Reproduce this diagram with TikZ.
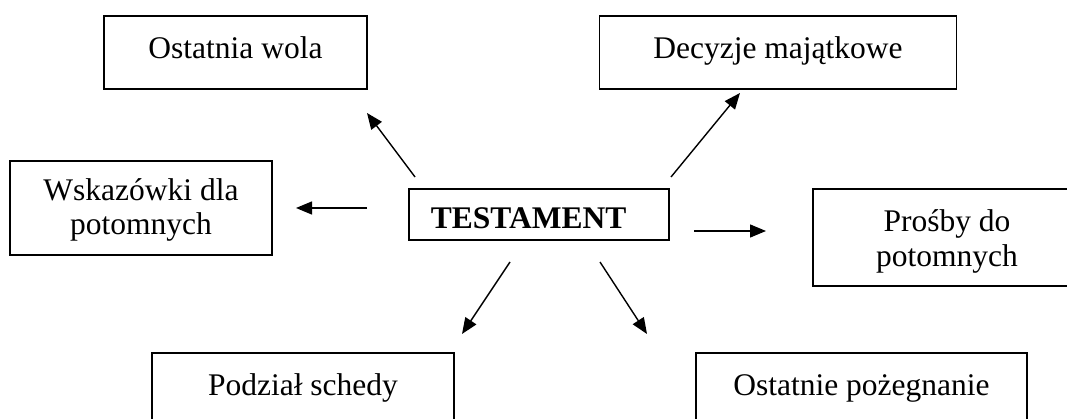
\documentclass[tikz,border=0pt]{standalone}
\usepackage{fontspec}
\setmainfont{Liberation Serif}
\usetikzlibrary{arrows.meta}

\tikzset{
  box/.style={draw, line width=1.8pt, inner sep=0pt, anchor=north, align=center,
    font=\fontsize{31.5}{34.5}\selectfont},
  arr/.style={-{Triangle[length=16pt,width=13pt]}, line width=1.4pt}
}

\begin{document}
\begin{tikzpicture}[x=1pt,y=-1pt]
  \path[use as bounding box] (0,0) rectangle (1067,419);
  \clip (0,0) rectangle (1067,419);

  % centre box
  \node[box, anchor=north west, align=left, inner xsep=22pt, text width=216pt,
        text height=40pt, text depth=11pt] (test) at (408,188) {\textbf{TESTAMENT}};

  % upper row
  \node[box, minimum width=263pt, text height=42pt, text depth=31pt] (wola) at (235.5,15.5) {Ostatnia wola};
  \node[box, minimum width=357pt, text height=42.5pt, text depth=30.5pt] (dec) at (778,15) {Decyzje majątkowe};

  % middle row
  \node[box, minimum width=262pt, text height=74pt, text depth=20pt] (wsk) at (141,160) {Wskazówki dla\\potomnych};
  \node[box, minimum width=268pt, text height=77.5pt, text depth=19.5pt] (pros) at (947,188) {Prośby do\\potomnych};

  % lower row
  \node[box, minimum width=302pt, text height=43pt, text depth=40pt] (podz) at (303,352) {Podział schedy};
  \node[box, minimum width=331pt, text height=43pt, text depth=40pt] (ost) at (861.5,352) {Ostatnie pożegnanie};

  % arrow ends
  \coordinate (wolaT) at (415,177);  \coordinate (wolaH) at (367,113);
  \coordinate (wskT) at (367,208);   \coordinate (wskH) at (296,208);
  \coordinate (decT) at (671,177);   \coordinate (decH) at (740,93);
  \coordinate (prosT) at (694,231);  \coordinate (prosH) at (766,231);
  \coordinate (podzT) at (510,262);  \coordinate (podzH) at (462,334);
  \coordinate (ostT) at (600,262);   \coordinate (ostH) at (647,334);

  % arrows
  \draw[arr] (wolaT) -- (wolaH);
  \draw[arr] (wskT) -- (wskH);
  \draw[arr] (decT) -- (decH);
  \draw[arr] (prosT) -- (prosH);
  \draw[arr] (podzT) -- (podzH);
  \draw[arr] (ostT) -- (ostH);
\end{tikzpicture}
\end{document}
